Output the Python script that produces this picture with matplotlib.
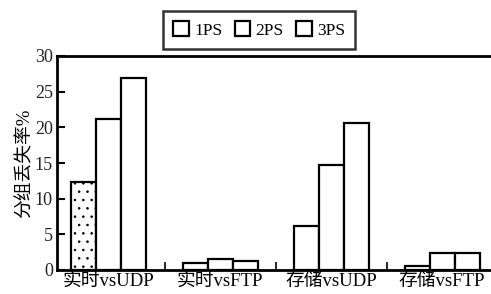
import matplotlib
matplotlib.use("Agg")
import matplotlib.pyplot as plt
from matplotlib.patches import Patch
import numpy as np

plt.rcParams['font.family'] = ['Liberation Serif', 'Noto Sans CJK SC', 'DejaVu Sans']
plt.rcParams['hatch.color'] = '#777777'
plt.rcParams['hatch.linewidth'] = 0.6

categories = ["实时vsUDP", "实时vsFTP", "存储vsUDP", "存储vsFTP"]
series_names = ["1PS", "2PS", "3PS"]
values_1ps = [12.3, 1.0, 6.2, 0.5]
values_2ps = [21.1, 1.5, 14.7, 2.35]
values_3ps = [26.9, 1.2, 20.6, 2.45]
yticks = [0, 5, 10, 15, 20, 25, 30]
ylabel = "分组丢失率%"

fig = plt.figure(figsize=(4.91, 2.94), dpi=100)
ax = fig.add_axes([57/491, 1-270/294, 1-57/491, (270-56)/294])

x = np.arange(len(categories))
w = 0.225
series = [values_1ps, values_2ps, values_3ps]
for i, (vals, name) in enumerate(zip(series, series_names)):
    bars = ax.bar(x + (i-1)*w, vals, w, facecolor='white', edgecolor='black',
                  linewidth=1.6)
    if i == 0:
        bars[0].set_hatch('..')
        bars[0].set_edgecolor('black')

ax.set_xlim(-0.468, 3.44)
ax.set_ylim(0, 30)
ax.set_yticks(yticks)
ax.set_yticklabels([str(t) for t in yticks], fontsize=13, color='#222')
ax.set_xticks(x)
ax.set_xticklabels(categories, fontsize=13.5)
ax.set_xticks([0.5, 1.5, 2.5], minor=True)
ax.tick_params(axis='x', which='major', length=0, pad=2)
ax.tick_params(axis='x', which='minor', direction='in', length=6, width=1.2)
ax.tick_params(axis='y', direction='in', length=6, width=1.5, pad=3)
ax.spines['right'].set_visible(False)
for s in ['left', 'bottom', 'top']:
    ax.spines[s].set_linewidth(2)
ax.set_ylabel(ylabel, fontsize=13.5, labelpad=1)

handles = [Patch(facecolor='white', edgecolor='black', linewidth=1.6, label=n)
           for n in series_names]
leg = fig.legend(handles=handles, loc='upper left', bbox_to_anchor=(163/491, 1-11/294),
                 borderaxespad=0, ncol=3,
                 fontsize=12.5, frameon=True, fancybox=False, edgecolor='black',
                 handlelength=0.9, handleheight=0.9, handletextpad=0.3,
                 columnspacing=0.7, borderpad=0.6)
leg.get_frame().set_linewidth(1.8)

fig.savefig("out.png", dpi=100)
